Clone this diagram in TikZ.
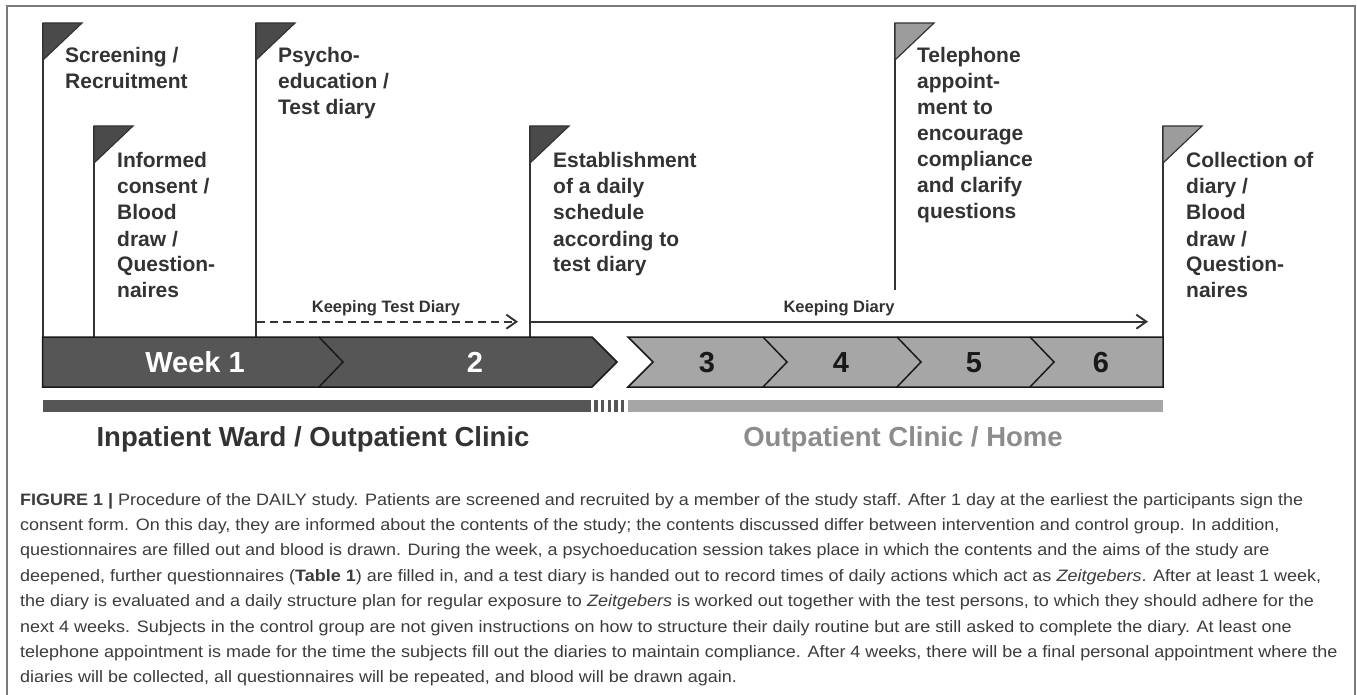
\documentclass[tikz,border=0pt]{standalone}
\usepackage{fontspec}
\setmainfont{Liberation Sans}
\newfontfamily\capfont[FakeStretch=1.09]{Liberation Sans}
\usetikzlibrary{arrows.meta}
\definecolor{darkfill}{HTML}{565656}
\definecolor{lightfill}{HTML}{A6A6A6}
\definecolor{flagdark}{HTML}{4A4A4A}
\definecolor{flaglight}{HTML}{9C9C9C}
\definecolor{txt}{HTML}{333333}
\definecolor{outtxt}{HTML}{8C8C8C}
\definecolor{framec}{HTML}{7A7A7A}
\definecolor{captxt}{HTML}{3C3C3C}
\newcommand{\flagtxt}[1]{\parbox[t]{220pt}{\raggedright #1}}
\begin{document}
\begin{tikzpicture}[x=1pt,y=-1pt,
 pole/.style={line width=2pt, draw=txt},
 flagtri/.style={draw=txt, line width=1.2pt, line join=miter},
 flaglabel/.style={anchor=base west, inner sep=0pt, text=txt, font=\fontsize{21}{26}\selectfont\bfseries},
 weekbar/.style={draw=black!90, line width=1.5pt, line join=miter},
 weeklabel/.style={font=\fontsize{29}{32}\selectfont\bfseries, inner sep=0pt, anchor=base},
 keeplabel/.style={font=\fontsize{16.5}{19}\selectfont\bfseries, text=txt, inner sep=0pt, anchor=base},
 diaryarrow/.style={line width=1.9pt, draw=txt, -{Straight Barb[length=10pt,width=14pt]}},
 placelabel/.style={font=\fontsize{27.5}{30}\selectfont\bfseries, inner sep=0pt, anchor=base},
]
\useasboundingbox (0,0) rectangle (1357,695);
\fill[white] (0,0) rectangle (1357,695);
% frame
\draw[framec, line width=1.5pt] (7,700) -- (7,6) -- (1355,6) -- (1355,700);

% flags and poles
\foreach \n/\x/\t/\b/\f in {scr/43/23/337/flagdark, inf/94/126/337/flagdark, psy/256/23/337/flagdark, est/530/126/337/flagdark, tel/895/23/290/flaglight, col/1163/126/337/flaglight} {
  \coordinate (\n top) at (\x,\t);
  \coordinate (\n foot) at (\x,\b);
  \draw[pole] (\n top) -- (\n foot);
  \filldraw[flagtri, fill=\f] (\n top) -- ++(39,0) -- ++(-39,37) -- cycle;
}

\node[flaglabel] (scrtext) at (65,63) {\flagtxt{Screening /\\Recruitment}};
\node[flaglabel] (inftext) at (117,168) {\flagtxt{Informed\\consent /\\Blood\\draw /\\Question-\\naires}};
\node[flaglabel] (psytext) at (278,63) {\flagtxt{Psycho-\\education /\\Test diary}};
\node[flaglabel] (esttext) at (553,168) {\flagtxt{Establishment\\of a daily\\schedule\\according to\\test diary}};
\node[flaglabel] (teltext) at (917,63) {\flagtxt{Telephone\\appoint-\\ment to\\encourage\\compliance\\and clarify\\questions}};
\node[flaglabel] (coltext) at (1186,168) {\flagtxt{Collection of\\diary /\\Blood\\draw /\\Question-\\naires}};

% diary arrows
\coordinate (tdstart) at (257,321.7);
\coordinate (tdend) at (518,321.7);
\coordinate (kdstart) at (530,321.7);
\coordinate (kdend) at (1148,321.7);
\draw[diaryarrow, dash pattern=on 8pt off 5pt] (tdstart) -- (tdend);
\draw[diaryarrow] (kdstart) -- (kdend);
\node[keeplabel] (ktd) at (386,312.5) {Keeping Test Diary};
\node[keeplabel] (kd) at (839,312.5) {Keeping Diary};

% week bar
\filldraw[weekbar, fill=darkfill] (42.5,337) -- (592,337) -- (617,362) -- (592,387) -- (42.5,387) -- cycle;
\draw[weekbar] (319,337) -- (343,362) -- (319,387);
\filldraw[weekbar, fill=lightfill] (628,337) -- (1163,337) -- (1163,387) -- (628,387) -- (653,362) -- cycle;
\foreach \sx in {763,897,1030} \draw[weekbar] (\sx,337) -- ++(24,25) -- ++(-24,25);

\node[weeklabel, text=white] (w1) at (195,372.5) {Week 1};
\node[weeklabel, text=white] (w2) at (475,372.5) {2};
\node[weeklabel, text=black!90] (w3) at (707,372.5) {3};
\node[weeklabel, text=black!90] (w4) at (841,372.5) {4};
\node[weeklabel, text=black!90] (w5) at (974,372.5) {5};
\node[weeklabel, text=black!90] (w6) at (1101,372.5) {6};

% location strip
\fill[darkfill] (42.5,400) rectangle (591,411.5);
\foreach \sx in {594.3,601,607.7,614.3,621} \fill[darkfill] (\sx,400) rectangle ++(3.3,11.5);
\fill[lightfill] (628,400) rectangle (1163,411.5);

\node[placelabel, text=txt] (inpat) at (313,446) {Inpatient Ward / Outpatient Clinic};
\node[placelabel, text=outtxt] (outpat) at (903,446) {Outpatient Clinic / Home};

% caption
\node[anchor=base west, inner sep=0pt, font=\capfont\fontsize{16.5}{25.4}\selectfont, text=captxt] (caption) at (20,505) {\parbox[t]{1400pt}{%
\textbf{FIGURE 1 |} Procedure of the DAILY study. Patients are screened and recruited by a member of the study staff. After 1 day at the earliest the participants sign the\\
consent form. On this day, they are informed about the contents of the study; the contents discussed differ between intervention and control group. In addition,\\
questionnaires are filled out and blood is drawn. During the week, a psychoeducation session takes place in which the contents and the aims of the study are\\
deepened, further questionnaires (\textbf{Table 1}) are filled in, and a test diary is handed out to record times of daily actions which act as \textit{Zeitgebers}. After at least 1 week,\\
the diary is evaluated and a daily structure plan for regular exposure to \textit{Zeitgebers} is worked out together with the test persons, to which they should adhere for the\\
next 4 weeks. Subjects in the control group are not given instructions on how to structure their daily routine but are still asked to complete the diary. At least one\\
telephone appointment is made for the time the subjects fill out the diaries to maintain compliance. After 4 weeks, there will be a final personal appointment where the\\
diaries will be collected, all questionnaires will be repeated, and blood will be drawn again.}};
\end{tikzpicture}
\end{document}
